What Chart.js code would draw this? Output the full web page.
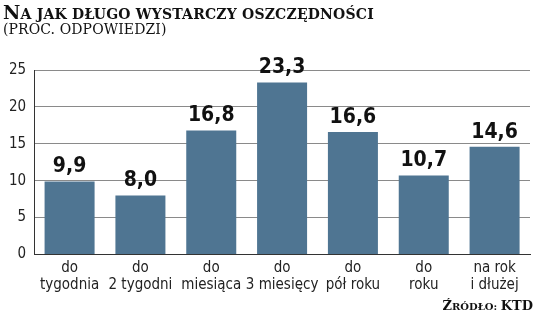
<!DOCTYPE html>
<html>
<head>
<meta charset="utf-8">
<script src="https://cdn.jsdelivr.net/npm/chart.js@4"></script>
<style>
  body { margin: 0; background: #fff; }
  #wrap { position: relative; width: 536px; height: 317px; overflow: hidden; }
  #chart { position: absolute; left: 0; top: 0; }
  .title { position: absolute; left: 3px; top: 1px; font-family: 'DejaVu Serif', serif; font-weight: bold; font-size: 14px; color: #111; white-space: nowrap; letter-spacing: 0.2px; }
  .title .big { font-size: 19px; }
  .sub { position: absolute; left: 3px; top: 21px; font-family: 'DejaVu Serif', serif; font-size: 14px; color: #111; white-space: nowrap; letter-spacing: 0.1px; }
  .src { position: absolute; right: 3px; top: 298px; font-family: 'DejaVu Serif', serif; font-weight: bold; font-size: 10px; color: #111; white-space: nowrap; }
  .src .big { font-size: 13px; }
</style>
</head>
<body>
<div id="wrap">
  <canvas id="chart" width="536" height="317"></canvas>
  <div class="title"><span class="big">N</span>A JAK DŁUGO WYSTARCZY OSZCZĘDNOŚCI</div>
  <div class="sub">(PROC. ODPOWIEDZI)</div>
  <div class="src"><span class="big">Ź</span>RÓDŁO: <span class="big">KTD</span></div>
</div>
<script>
const categories = [
  ['do', 'tygodnia'],
  ['do', '2 tygodni'],
  ['do', 'miesiąca'],
  ['do', '3 miesięcy'],
  ['do', 'pół roku'],
  ['do', 'roku'],
  ['na rok', 'i dłużej']
];
const values = [9.9, 8.0, 16.8, 23.3, 16.6, 10.7, 14.6];
const yTicks = [0, 5, 10, 15, 20, 25];

const narrow = "'Liberation Sans Narrow', 'DejaVu Sans Condensed', sans-serif";

// draws value labels above bars, polish decimal comma
const valueLabels = {
  id: 'valueLabels',
  afterDatasetsDraw(chart) {
    const c = chart.ctx;
    const meta = chart.getDatasetMeta(0);
    c.save();
    c.font = 'bold 21px ' + narrow;
    c.fillStyle = '#111';
    c.textAlign = 'center';
    c.textBaseline = 'bottom';
    meta.data.forEach((bar, i) => {
      c.fillText(values[i].toFixed(1).replace('.', ','), bar.x, bar.y - 4);
    });
    c.restore();
  }
};

new Chart(document.getElementById('chart'), {
  type: 'bar',
  data: {
    labels: categories,
    datasets: [{
      data: values,
      backgroundColor: '#4f7592',
      barPercentage: 0.706,
      categoryPercentage: 1.0
    }]
  },
  options: {
    responsive: false,
    animation: false,
    layout: { padding: { left: 1, right: 6, top: 70, bottom: 18 } },
    plugins: {
      legend: { display: false },
      tooltip: { enabled: false }
    },
    scales: {
      y: {
        min: 0,
        max: 25,
        afterBuildTicks: axis => { axis.ticks = yTicks.map(v => ({ value: v })); },
        ticks: { color: '#222', font: { family: narrow, size: 15 }, padding: 8 },
        grid: { color: '#8a8a8a', lineWidth: 1, drawTicks: false },
        border: { color: '#333', width: 1 }
      },
      x: {
        ticks: { color: '#222', font: { family: narrow, size: 15, lineHeight: 1.15 }, padding: 5, maxRotation: 0, autoSkip: false },
        grid: { display: false, drawTicks: false },
        border: { color: '#333', width: 1 }
      }
    }
  },
  plugins: [valueLabels]
});
</script>
</body>
</html>
